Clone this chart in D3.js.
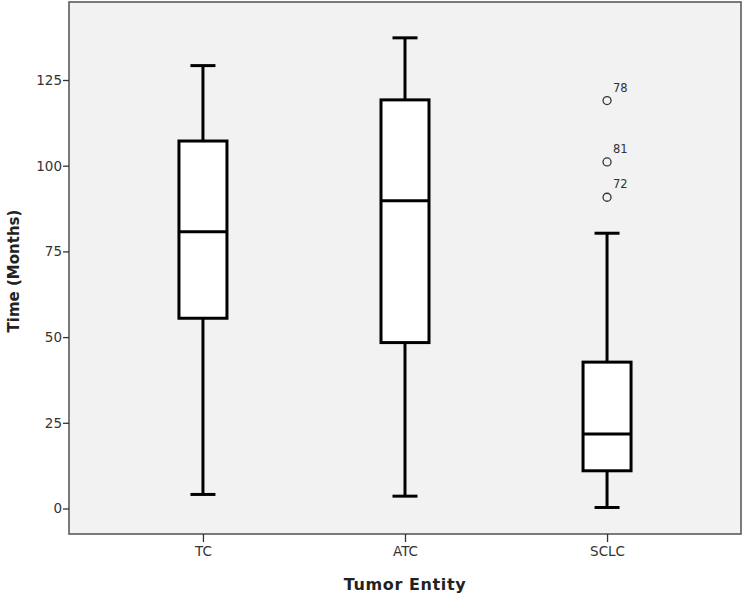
<!DOCTYPE html>
<html>
<head>
<meta charset="utf-8">
<script src="https://cdn.jsdelivr.net/npm/d3@7"></script>
<style>
  body { margin: 0; background: #fff; }
  svg { display: block; }
  text { font-family: "DejaVu Sans", Verdana, sans-serif; }
</style>
</head>
<body>
<svg id="chart" width="744" height="595"></svg>
<script>
// ---- Data ----
const categories = ["TC", "ATC", "SCLC"];
const whiskerLow  = [4.1, 3.6, 0.3];
const q1          = [55.5, 48.4, 11.0];
const median      = [80.7, 89.8, 21.7];
const q3          = [107.2, 119.2, 42.7];
const whiskerHigh = [129.2, 137.3, 80.3];
const outlierCategory = ["SCLC", "SCLC", "SCLC"];
const outlierValue    = [119.0, 101.1, 90.8];
const outlierLabel    = ["78", "81", "72"];
const yTicks = [0, 25, 50, 75, 100, 125];
const xTitle = "Tumor Entity";
const yTitle = "Time (Months)";

// ---- Layout ----
const svg = d3.select("#chart");
const plot = { left: 69, right: 741, top: 2, bottom: 534 };

const x = d3.scalePoint()
  .domain(categories)
  .range([plot.left, plot.right])
  .padding(0.663);

const y = d3.scaleLinear()
  .domain([0, 125])
  .range([508.5, 80]);

// plot background
svg.append("rect")
  .attr("x", plot.left).attr("y", plot.top)
  .attr("width", plot.right - plot.left)
  .attr("height", plot.bottom - plot.top)
  .attr("fill", "#f2f2f2")
  .attr("stroke", "#5a5a5a")
  .attr("stroke-width", 1.6);

// axes
const yAxis = d3.axisLeft(y).tickValues(yTicks).tickSize(6).tickPadding(1).tickFormat(d3.format("d"));
const gy = svg.append("g").attr("transform", `translate(${plot.left},0)`).call(yAxis);
gy.select(".domain").remove();
gy.selectAll(".tick line").attr("stroke", "#333").attr("stroke-width", 1.3);
gy.selectAll(".tick text").attr("fill", "#333").style("font-size", "13.5px")
  .style("font-family", "'DejaVu Sans', Verdana, sans-serif");

const xAxis = d3.axisBottom(x).tickSize(8).tickPadding(4);
const gx = svg.append("g").attr("transform", `translate(0,${plot.bottom})`).call(xAxis);
gx.select(".domain").remove();
gx.selectAll(".tick line").attr("stroke", "#333").attr("stroke-width", 1.3);
gx.selectAll(".tick text").attr("fill", "#333").style("font-size", "13.5px")
  .style("font-family", "'DejaVu Sans', Verdana, sans-serif");

// boxes
const boxW = 51, capW = 25;
const data = categories.map((c, i) => ({
  c, lo: whiskerLow[i], q1: q1[i], med: median[i], q3: q3[i], hi: whiskerHigh[i]
}));

const g = svg.append("g");
data.forEach(d => {
  const cx = x(d.c);
  g.append("line").attr("x1", cx).attr("x2", cx).attr("y1", y(d.hi)).attr("y2", y(d.q3))
    .attr("stroke", "#000").attr("stroke-width", 3);
  g.append("line").attr("x1", cx).attr("x2", cx).attr("y1", y(d.q1)).attr("y2", y(d.lo))
    .attr("stroke", "#000").attr("stroke-width", 3);
  [d.hi, d.lo].forEach(v => {
    g.append("line").attr("x1", cx - capW / 2).attr("x2", cx + capW / 2)
      .attr("y1", y(v)).attr("y2", y(v))
      .attr("stroke", "#000").attr("stroke-width", 3);
  });
  g.append("rect")
    .attr("x", cx - boxW / 2 + 1.5).attr("width", boxW - 3)
    .attr("y", y(d.q3)).attr("height", y(d.q1) - y(d.q3))
    .attr("fill", "#fff").attr("stroke", "#000").attr("stroke-width", 3);
  g.append("line").attr("x1", cx - boxW / 2 + 1.5).attr("x2", cx + boxW / 2 - 1.5)
    .attr("y1", y(d.med)).attr("y2", y(d.med))
    .attr("stroke", "#000").attr("stroke-width", 3);
});

// outliers
outlierValue.forEach((v, i) => {
  const cx = x(outlierCategory[i]);
  g.append("circle").attr("cx", cx).attr("cy", y(v)).attr("r", 4)
    .attr("fill", "none").attr("stroke", "#333").attr("stroke-width", 1.3);
  g.append("text").attr("x", cx + 6).attr("y", y(v) - 9)
    .attr("fill", "#333").style("font-size", "11.5px").text(outlierLabel[i]);
});

// titles
svg.append("text")
  .attr("x", (plot.left + plot.right) / 2).attr("y", 590)
  .attr("text-anchor", "middle")
  .style("font-size", "16px").style("font-weight", "bold")
  .style("letter-spacing", "0.6px").attr("fill", "#222")
  .text(xTitle);

svg.append("text")
  .attr("transform", `translate(19,271) rotate(-90)`)
  .attr("text-anchor", "middle")
  .style("font-size", "15px").style("font-weight", "bold").attr("fill", "#222")
  .text(yTitle);
</script>
</body>
</html>
